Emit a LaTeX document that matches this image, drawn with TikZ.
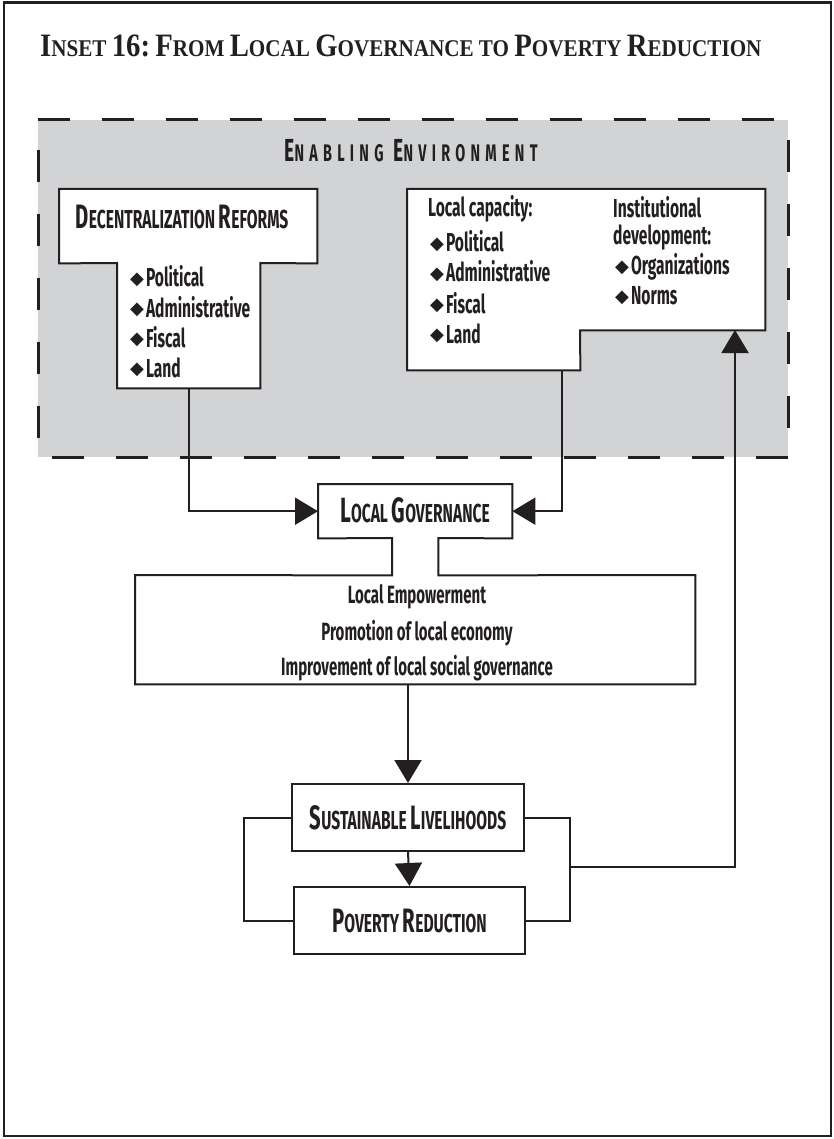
\documentclass[tikz,border=0pt]{standalone}
\usepackage{fontspec}
\usepackage{graphicx}
\usetikzlibrary{arrows.meta}
\newfontfamily\condfont[FakeStretch=0.6]{Fira Sans}
\newfontfamily\titlefont[FakeStretch=0.88]{Liberation Serif}
\newfontfamily\symfont{DejaVu Sans}
\definecolor{envgray}{RGB}{209,211,213}
\definecolor{ink}{RGB}{35,31,32}
\newcommand{\up}[2][1.3]{\scalebox{#1}{#2}}
\newcommand{\bul}{\raisebox{2.5pt}{\symfont\fontsize{18}{18}\selectfont ◆}\hspace{2pt}}
\tikzset{
    frame/.style    = {draw=ink,
                      line width=2.5pt},
    envzone/.style  = {fill=envgray,
                      draw=none},
    envedge/.style  = {draw=ink,
                      line width=3pt,
                      dash pattern=on 32pt off 32pt},
    part/.style     = {rectangle,
                      inner sep=0pt,
                      anchor=north west},
    outline/.style  = {draw=ink,
                      fill=white,
                      line width=2pt},
    stage/.style    = {rectangle,
                      draw=ink,
                      fill=white,
                      line width=2pt,
                      inner sep=0pt,
                      text=ink,
                      font=\condfont\bfseries\fontsize{26}{28}\selectfont},
    heading/.style  = {anchor=base,
                      inner sep=0pt,
                      text=ink,
                      font=\condfont\bfseries\fontsize{26}{28}\selectfont},
    item/.style     = {anchor=base west,
                      inner sep=0pt,
                      text=ink,
                      font=\condfont\bfseries\fontsize{26}{28}\selectfont},
    effect/.style   = {item,
                      anchor=base,
                      font=\condfont\bfseries\fontsize{25}{28}\selectfont},
    title/.style    = {anchor=base west,
                      inner sep=0pt,
                      text=ink,
                      font=\titlefont\bfseries\fontsize{24}{26}\selectfont},
    envlabel/.style = {anchor=base,
                      inner sep=0pt,
                      text=ink,
                      font=\condfont\bfseries\fontsize{24}{26}\selectfont\addfontfeature{LetterSpace=22}},
    conn/.style     = {draw=ink,
                      line width=2pt},
    >={Triangle[length=23pt,width=27pt]}}

\begin{document}
\begin{tikzpicture}[x=1pt,y=-1pt]
    \useasboundingbox (0,0) rectangle (834,1139);
    \draw[frame] (4,2.5) rectangle (831,1136);
    \node[title] (title) at (40,57) {\up[1.36]{I}NSET \up[1.36]{16:} \up[1.36]{F}ROM \up[1.36]{L}OCAL \up[1.36]{G}OVERNANCE TO \up[1.36]{P}OVERTY \up[1.36]{R}EDUCTION};

    % enabling environment
    \path[envzone] (38,120) rectangle (788,457);
    \draw[envedge] (38,120) -- (788,120);
    \draw[envedge, dash phase=44pt] (788,120) -- (788,457);
    \draw[envedge] (788,457) -- (38,457);
    \draw[envedge, dash phase=34pt] (38,120) -- (38,457);
    \node[envlabel] (env) at (411,162) {\up[1.33]{E}NABLING\hspace{10pt}\up[1.33]{E}NVIRONMENT};

    % decentralization reforms
    \node[part, minimum width=258pt, minimum height=74pt]  (drhead) at (59,189)  {};
    \node[part, minimum width=143pt, minimum height=125pt] (drlist) at (117,263) {};
    \draw[outline] (drhead.north west) -- (drhead.north east) -- (drhead.south east) -- (drlist.north east)
                -- (drlist.south east) -- (drlist.south west) -- (drlist.north west) -- (drhead.south west) -- cycle;
    \node[heading] (drtitle) at (182,229) {\up{D}ECENTRALIZATION \up{R}EFORMS};
    \node[item] (dr1) at (130,287) {\bul Political};
    \node[item] (dr2) at (130,317) {\bul Administrative};
    \node[item] (dr3) at (130,347) {\bul Fiscal};
    \node[item] (dr4) at (130,377) {\bul Land};

    % local capacity and institutional development
    \node[part, minimum width=173pt, minimum height=181pt] (lccap)  at (407,189) {};
    \node[part, minimum width=185pt, minimum height=141pt] (lcinst) at (580,189) {};
    \draw[outline] (lccap.north west) -- (lcinst.north east) -- (lcinst.south east) -- (lcinst.south west)
                -- (lccap.south east) -- (lccap.south west) -- cycle;
    \node[item] (lc0) at (428,217) {Local capacity:};
    \node[item] (lc1) at (430,252) {\bul Political};
    \node[item] (lc2) at (430,282) {\bul Administrative};
    \node[item] (lc3) at (430,313) {\bul Fiscal};
    \node[item] (lc4) at (430,343) {\bul Land};
    \node[item] (id0) at (613,218) {Institutional};
    \node[item] (id1) at (613,245) {development:};
    \node[item] (id2) at (615,275) {\bul Organizations};
    \node[item] (id3) at (615,305) {\bul Norms};

    % local governance and its effects
    \node[part, minimum width=194pt, minimum height=54pt]  (lghead)  at (318,484) {};
    \node[part, minimum width=46pt,  minimum height=37pt]  (lgneck)  at (392,538) {};
    \node[part, minimum width=560pt, minimum height=109pt] (effects) at (135,575) {};
    \draw[outline] (lghead.north west) -- (lghead.north east) -- (lghead.south east) -- (lgneck.north east)
                -- (lgneck.south east) -- (effects.north east) -- (effects.south east) -- (effects.south west)
                -- (effects.north west) -- (lgneck.south west) -- (lgneck.north west) -- (lghead.south west) -- cycle;
    \node[heading] (lgtitle) at (415,522) {\up[1.35]{L}OCAL \up[1.35]{G}OVERNANCE};
    \node[effect] (eff1) at (417,603) {Local Empowerment};
    \node[effect] (eff2) at (417,640) {Promotion of local economy};
    \node[effect] (eff3) at (417,675) {Improvement of local social governance};

    % livelihoods and poverty reduction
    \node[stage, minimum width=232pt, minimum height=67pt] (sl) at (408,817.5) {\up{S}USTAINABLE \up{L}IVELIHOODS};
    \node[stage, minimum width=231pt, minimum height=67pt] (pr) at (409.5,920.5) {\up{P}OVERTY \up{R}EDUCTION};

    % connectors
    \coordinate (lcout) at (562,370);
    \coordinate (fbin)  at (735,330);
    \draw[conn,->] (drlist.south) |- (lghead.west);
    \draw[conn,->] (lcout) |- (lghead.east);
    \draw[conn,->] (sl.north |- effects.south) -- (sl.north);
    \draw[conn,->] (sl.south) -- (pr.north);
    \draw[conn] (sl.west) -- ++(-47,0) |- (pr.west);
    \draw[conn] (sl.east) -- ++(45,0) coordinate (loopr) |- (pr.east);
    \draw[conn,->] (loopr |- 0,867) -| (fbin);
\end{tikzpicture}
\end{document}
